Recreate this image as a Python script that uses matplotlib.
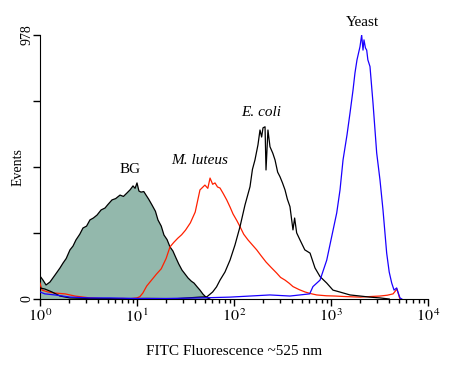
import matplotlib
matplotlib.use("Agg")
import matplotlib.pyplot as plt
import numpy as np
from matplotlib.ticker import NullFormatter, LogLocator

plt.rcParams['font.family'] = ['Liberation Serif', 'DejaVu Serif']
plt.rcParams['mathtext.fontset'] = 'stix'

# log10 fluorescence positions and event counts
bg_log = [0.0, 0.031, 0.062, 0.103, 0.155, 0.206, 0.237, 0.27, 0.309, 0.34, 0.371, 0.41, 0.443,
          0.48, 0.515, 0.55, 0.588, 0.63, 0.670, 0.70, 0.742, 0.78, 0.825, 0.86, 0.897, 0.93,
          0.959, 0.98, 1.0, 1.02, 1.041, 1.07, 1.093, 1.12, 1.155, 1.19, 1.216, 1.25, 1.278,
          1.31, 1.340, 1.37, 1.402, 1.43, 1.464, 1.49, 1.526, 1.56, 1.588, 1.62, 1.649, 1.68,
          1.711, 1.75]
bg_cnt = [85, 70, 52, 63, 89, 115, 133, 150, 182, 196, 219, 240, 263, 270, 293, 300, 311, 330,
          337, 350, 367, 372, 385, 380, 393, 405, 419, 410, 430, 400, 396, 398, 385, 370, 348,
          325, 293, 270, 237, 220, 193, 178, 152, 130, 107, 95, 78, 66, 59, 45, 33, 18, 7, 0]

lut_log = [0.0, 0.02, 0.082, 0.155, 0.258, 0.36, 0.515, 0.72, 0.85, 0.93, 1.0, 1.03, 1.06, 1.10,
           1.15, 1.20, 1.25, 1.30, 1.34, 1.38, 1.42, 1.46, 1.50, 1.55, 1.60, 1.649, 1.70, 1.73,
           1.753, 1.78, 1.804, 1.83, 1.856, 1.89, 1.925, 1.96, 1.99, 2.03, 2.062, 2.10, 2.144,
           2.19, 2.234, 2.28, 2.33, 2.38, 2.44, 2.48, 2.526, 2.57, 2.608, 2.67, 2.732, 2.79,
           2.853, 2.95, 3.04, 3.15, 3.3, 3.4, 3.505, 3.58, 3.64, 3.68, 3.71]
lut_cnt = [59, 33, 26, 22, 19, 11, 4, 0, 2, 1, 4, 9, 22, 48, 70, 92, 112, 150, 193, 210, 225,
           238, 255, 282, 322, 404, 422, 410, 448, 425, 430, 415, 411, 390, 367, 340, 315, 290,
           268, 240, 219, 200, 182, 160, 137, 118, 96, 80, 70, 58, 46, 35, 26, 20, 15, 12, 11,
           9, 7, 9, 11, 14, 19, 37, 0]

eco_log = [0.0, 0.05, 0.124, 0.206, 0.309, 0.5, 0.8, 1.1, 1.4, 1.649, 1.72, 1.78, 1.82, 1.856,
           1.907, 1.959, 2.01, 2.062, 2.113, 2.165, 2.19, 2.216, 2.247, 2.268, 2.285, 2.299,
           2.32, 2.33, 2.35, 2.371, 2.40, 2.423, 2.45, 2.474, 2.50, 2.526, 2.55, 2.577, 2.608,
           2.625, 2.646, 2.68, 2.73, 2.784, 2.835, 2.887, 2.956, 3.02, 3.09, 3.196, 3.3, 3.40,
           3.505, 3.6]
eco_cnt = [41, 37, 26, 11, 4, 2, 1, 2, 1, 7, 8, 26, 45, 70, 100, 144, 200, 268, 348, 416, 480,
           515, 571, 626, 600, 634, 638, 478, 626, 564, 540, 515, 470, 453, 430, 404, 370, 342,
           256, 300, 245, 219, 182, 170, 115, 83, 59, 33, 26, 15, 11, 7, 4, 0]

yst_log = [0.0, 0.05, 0.155, 0.31, 0.515, 0.72, 1.0, 1.3, 1.65, 1.96, 2.165, 2.37, 2.577, 2.78,
           2.814, 2.887, 2.956, 3.0, 3.059, 3.093, 3.124, 3.165, 3.196, 3.227, 3.247, 3.268,
           3.299, 3.316, 3.33, 3.34, 3.355, 3.368, 3.38, 3.402, 3.433, 3.471, 3.505, 3.536,
           3.574, 3.6, 3.626, 3.65, 3.677, 3.69, 3.711, 3.73]
yst_cnt = [26, 19, 15, 7, 4, 4, 2, 2, 4, 7, 11, 15, 11, 19, 46, 70, 144, 219, 319, 404, 515,
           608, 689, 774, 837, 886, 935, 978, 922, 960, 930, 922, 886, 861, 726, 541, 441, 330,
           170, 100, 59, 33, 41, 26, 4, 0]

fig = plt.figure(figsize=(4.56, 3.69), dpi=100)
ax = fig.add_axes([40/456, 70/369, 388/456, 264/369])

bx = 10 ** np.array(bg_log)
ax.fill_between(bx, 0, bg_cnt, facecolor='#93b8ac', edgecolor='none', zorder=1)
ax.plot(bx, bg_cnt, color='black', lw=0.9, zorder=2)
ax.plot(10 ** np.array(lut_log), lut_cnt, color='#ff2000', lw=0.9, zorder=3)
ax.plot(10 ** np.array(eco_log), eco_cnt, color='black', lw=0.9, zorder=3)
ax.plot(10 ** np.array(yst_log), yst_cnt, color='#1a00ff', lw=0.9, zorder=4)

ax.set_xscale('log')
ax.set_xlim(1, 1e4)
ax.set_ylim(0, 978)
ax.spines['top'].set_visible(False)
ax.spines['right'].set_visible(False)
ax.set_xticks([1, 10, 100, 1000, 10000])
ax.set_xticklabels([r'$10^{\,0}$', r'$10^{\,1}$', r'$10^{\,2}$', r'$10^{\,3}$', r'$10^{\,4}$'],
                   fontsize=11.5)
ax.xaxis.set_minor_locator(LogLocator(base=10, subs=np.arange(2, 10)))
ax.xaxis.set_minor_formatter(NullFormatter())
ax.tick_params(axis='x', which='major', length=5, width=1, pad=2)
ax.tick_params(axis='x', which='minor', length=3, width=1)
ax.set_yticks([0, 244.5, 489, 733.5, 978])
ax.set_yticklabels(['0', '', '', '', '978'], rotation=90, va='center', fontsize=10)
ax.tick_params(axis='y', length=5, width=1, pad=0)

ax.set_xlabel('FITC Fluorescence ~525 nm', fontsize=11, labelpad=14)
fig.text(18/456, 1 - 167/369, 'Events', rotation=90, fontsize=10, ha='center', va='center')

ax.text(10 ** 0.93, 455, 'BG', fontsize=11, ha='center', va='bottom')
ax.text(10 ** 1.65, 490, 'M. luteus', fontsize=11, style='italic', ha='center', va='bottom')
ax.text(10 ** 2.28, 665, 'E. coli', fontsize=11, style='italic', ha='center', va='bottom')
ax.text(10 ** 3.32, 1000, 'Yeast', fontsize=11, ha='center', va='bottom', clip_on=False)

fig.savefig('out.png', dpi=100)
